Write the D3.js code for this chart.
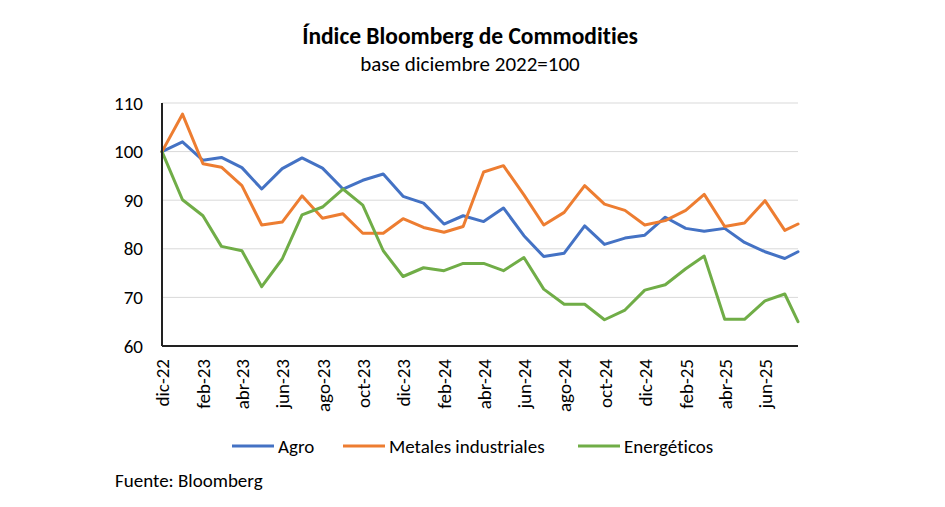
<!DOCTYPE html>
<html>
<head>
<meta charset="utf-8">
<script src="https://cdn.jsdelivr.net/npm/d3@7"></script>
<style>
    body { margin: 0; background: #fff; }
    text { font-family: Carlito, Lato, "Noto Sans", sans-serif; fill: #000; font-variant-ligatures: none; }
    .grid line { stroke: #d9d9d9; stroke-width: 1; }
    .series { fill: none; stroke-width: 3; stroke-linejoin: round; stroke-linecap: round; }
</style>
</head>
<body>
<script>
//chart data
var dates = ["2022-12-01","2023-01-01","2023-02-01","2023-03-01","2023-04-01","2023-05-01",
             "2023-06-01","2023-07-01","2023-08-01","2023-09-01","2023-10-01","2023-11-01",
             "2023-12-01","2024-01-01","2024-02-01","2024-03-01","2024-04-01","2024-05-01",
             "2024-06-01","2024-07-01","2024-08-01","2024-09-01","2024-10-01","2024-11-01",
             "2024-12-01","2025-01-01","2025-02-01","2025-03-01","2025-04-01","2025-05-01",
             "2025-06-01","2025-07-01","2025-07-21"];

var agro = [100, 102, 98.2, 98.8, 96.7, 92.3, 96.5, 98.7, 96.6, 92.3, 94.1, 95.4,
            90.8, 89.4, 85.1, 86.8, 85.6, 88.4, 82.7, 78.4, 79.1, 84.7, 80.9, 82.2,
            82.8, 86.5, 84.2, 83.6, 84.2, 81.3, 79.4, 78.0, 79.4];

var metales = [100, 107.7, 97.5, 96.8, 93.0, 84.9, 85.5, 90.9, 86.3, 87.2, 83.2, 83.2,
               86.2, 84.4, 83.4, 84.6, 95.8, 97.1, 91.1, 84.9, 87.5, 93.0, 89.2, 87.9,
               84.9, 85.8, 87.9, 91.2, 84.6, 85.3, 89.9, 83.8, 85.1];

var energeticos = [100, 90.1, 86.8, 80.5, 79.6, 72.2, 77.9, 87.0, 88.6, 92.3, 89.0, 79.6,
                   74.3, 76.1, 75.5, 77.0, 77.0, 75.5, 78.2, 71.7, 68.6, 68.6, 65.4, 67.4,
                   71.5, 72.6, 75.9, 78.5, 65.5, 65.5, 69.3, 70.7, 65.0];

var seriesNames = ["Agro", "Metales industriales", "Energéticos"];
var seriesColors = ["#4472c4", "#ed7d31", "#70ad47"];
var monthAbbr = ["ene","feb","mar","abr","may","jun","jul","ago","sep","oct","nov","dic"];
var yTicks = [60, 70, 80, 90, 100, 110];

//frame
var width = 945,
    height = 507;

var svg = d3.select("body")
    .append("svg")
    .attr("width", width)
    .attr("height", height);

var parse = d3.timeParse("%Y-%m-%d");
var points = dates.map(parse);

var x = d3.scaleTime()
    .domain(d3.extent(points))
    .range([162, 798]);

var y = d3.scaleLinear()
    .domain([60, 110])
    .range([346, 103]);

//title
svg.append("text")
    .attr("x", 470).attr("y", 44)
    .attr("text-anchor", "middle")
    .style("font-size", "23.5px")
    .style("font-weight", "bold")
    .text("Índice Bloomberg de Commodities");

svg.append("text")
    .attr("x", 470).attr("y", 71)
    .attr("text-anchor", "middle")
    .style("font-size", "21px")
    .text("base diciembre 2022=100");

//gridlines
svg.append("g")
    .attr("class", "grid")
    .selectAll("line")
    .data(yTicks.slice(1))
    .enter()
    .append("line")
    .attr("x1", x.range()[0]).attr("x2", x.range()[1])
    .attr("y1", function(d){ return y(d); })
    .attr("y2", function(d){ return y(d); });

//y axis labels
var yAxis = svg.append("g")
    .attr("transform", "translate(" + x.range()[0] + ",0)")
    .call(d3.axisLeft(y).tickValues(yTicks).tickSize(0).tickPadding(19));
yAxis.select(".domain").remove();
yAxis.selectAll("text").style("font-size", "19px");

//x axis
var xTicks = d3.timeMonth.range(points[0], points[points.length - 1], 2);
var xAxis = svg.append("g")
    .attr("transform", "translate(0," + y.range()[0] + ")")
    .call(d3.axisBottom(x)
        .tickValues(xTicks)
        .tickSize(0)
        .tickFormat(function(d){
            return monthAbbr[d.getMonth()] + "-" + d3.timeFormat("%y")(d);
        }));
xAxis.select(".domain").remove();
xAxis.selectAll("text")
    .style("font-size", "19px")
    .attr("text-anchor", "end")
    .attr("transform", "rotate(-90)")
    .attr("x", -13)
    .attr("y", 0)
    .attr("dy", "0.35em");

//series lines
var line = d3.line()
    .x(function(d, i){ return x(points[i]); })
    .y(function(d){ return y(d); });

[agro, metales, energeticos].forEach(function(values, i){
    svg.append("path")
        .datum(values)
        .attr("class", "series")
        .attr("stroke", seriesColors[i])
        .attr("d", line);
});

//axis lines on top
svg.append("line")
    .attr("x1", x.range()[0]).attr("x2", x.range()[0])
    .attr("y1", y.range()[1]).attr("y2", y.range()[0])
    .attr("stroke", "#222").attr("stroke-width", 2);
svg.append("line")
    .attr("x1", x.range()[0]).attr("x2", x.range()[1])
    .attr("y1", y.range()[0]).attr("y2", y.range()[0])
    .attr("stroke", "#222").attr("stroke-width", 2);

//legend
var legendX = [232, 343, 578];
var legend = svg.selectAll(".legend")
    .data(seriesNames)
    .enter()
    .append("g")
    .attr("class", "legend")
    .attr("transform", function(d, i){ return "translate(" + legendX[i] + ",446)"; });

legend.append("line")
    .attr("x1", 0).attr("x2", 42)
    .attr("stroke", function(d, i){ return seriesColors[i]; })
    .attr("stroke-width", 3);

legend.append("text")
    .attr("x", 46)
    .attr("dy", "0.35em")
    .style("font-size", "19px")
    .text(function(d){ return d; });

//source
svg.append("text")
    .attr("x", 115).attr("y", 487)
    .style("font-size", "19px")
    .text("Fuente: Bloomberg");
</script>
</body>
</html>
